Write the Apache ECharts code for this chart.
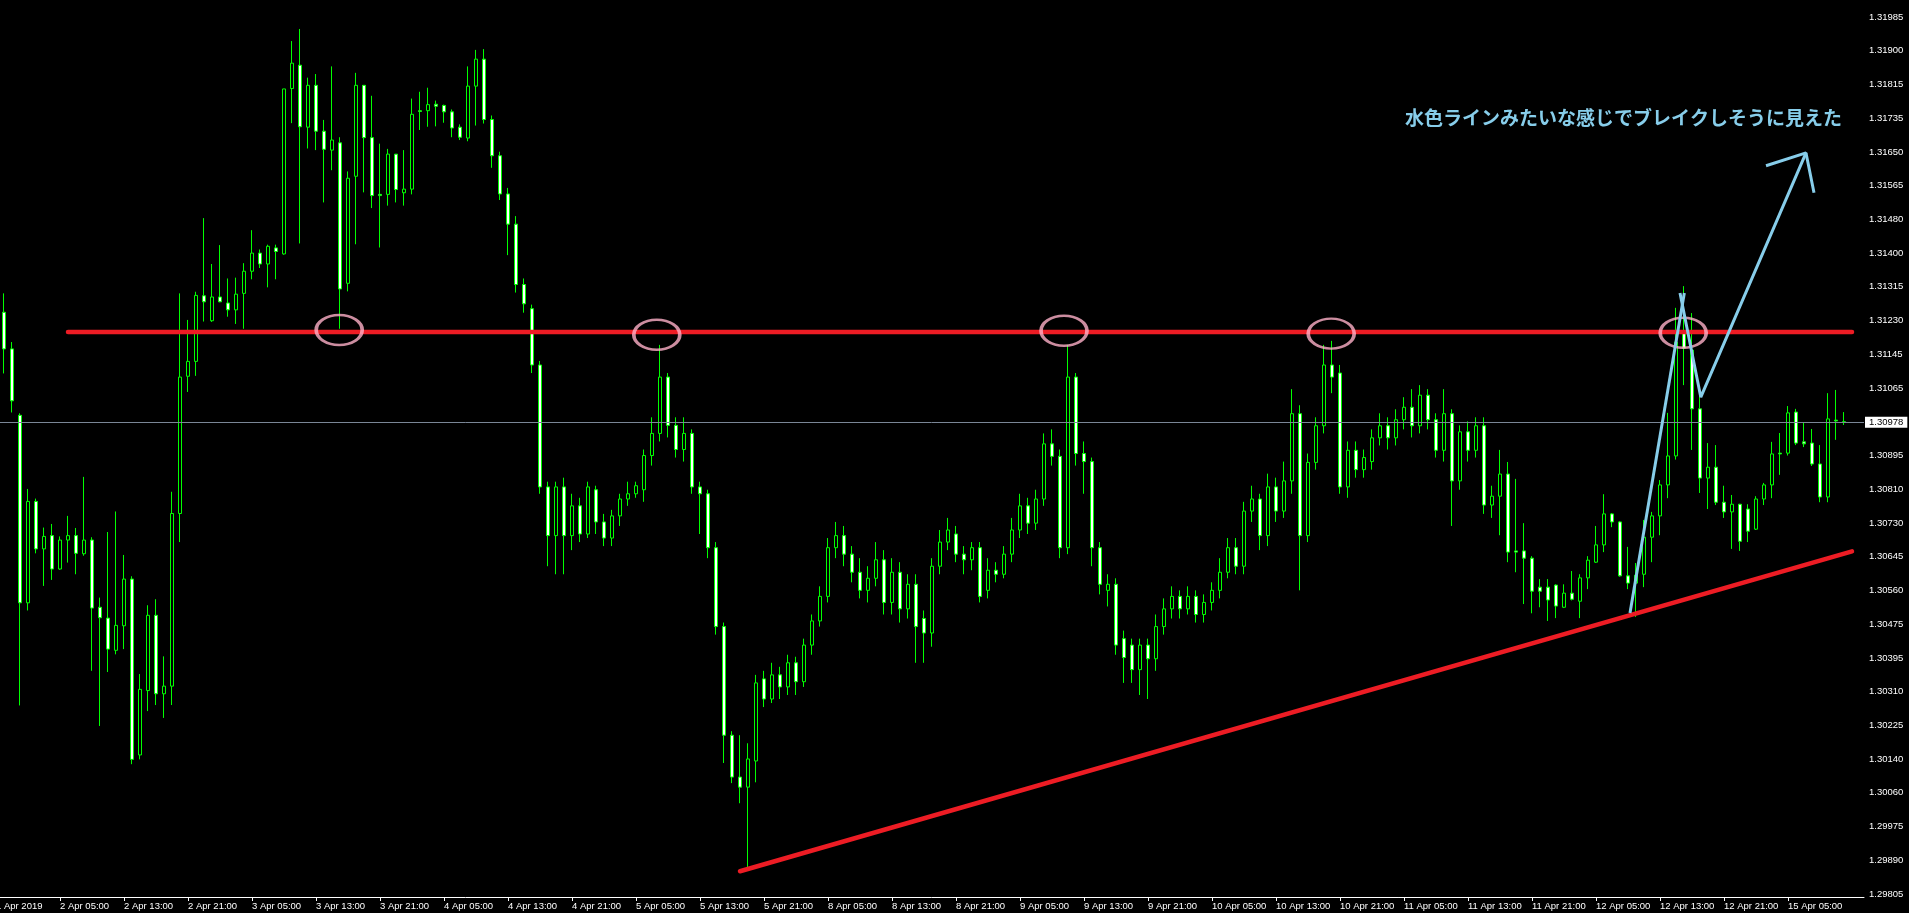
<!DOCTYPE html>
<html><head><meta charset="utf-8">
<script src="https://cdn.jsdelivr.net/npm/echarts@6/dist/echarts.min.js"></script>
<style>html,body{margin:0;padding:0;background:#000;overflow:hidden}#c{width:1909px;height:913px}</style>
</head><body><div id="c"></div>
<script>
// GBPUSD H1, 1 Apr 22:00 .. 15 Apr 12:00 (index 1..231 on the category axis)
const xTickLabels = ['1 Apr 2019','2 Apr 05:00','2 Apr 13:00','2 Apr 21:00','3 Apr 05:00','3 Apr 13:00','3 Apr 21:00','4 Apr 05:00','4 Apr 13:00','4 Apr 21:00','5 Apr 05:00','5 Apr 13:00','5 Apr 21:00','8 Apr 05:00','8 Apr 13:00','8 Apr 21:00','9 Apr 05:00','9 Apr 13:00','9 Apr 21:00','10 Apr 05:00','10 Apr 13:00','10 Apr 21:00','11 Apr 05:00','11 Apr 13:00','11 Apr 21:00','12 Apr 05:00','12 Apr 13:00','12 Apr 21:00','15 Apr 05:00'];
const yTickLabels = ['1.29805','1.29890','1.29975','1.30060','1.30140','1.30225','1.30310','1.30395','1.30475','1.30560','1.30645','1.30730','1.30810','1.30895','','1.31065','1.31145','1.31230','1.31315','1.31400','1.31480','1.31565','1.31650','1.31735','1.31815','1.31900','1.31985'];

const opens = [
1.31251,1.31160,1.30995,1.30529,1.30781,1.30663,1.30696,1.30613,1.30685,1.30696,
1.30651,1.30685,1.30518,1.30491,1.30411,1.30472,1.30588,1.30151,1.30311,1.30498,
1.30303,1.30322,1.30751,1.31092,1.31129,1.31292,1.31230,1.31289,1.31274,1.31257,
1.31298,1.31353,1.31398,1.31371,1.31411,1.31396,1.31807,1.31865,1.31711,1.31815,
1.31701,1.31654,1.31672,1.31323,1.31589,1.31815,1.31685,1.31544,1.31544,1.31644,
1.31548,1.31557,1.31752,1.31752,1.31768,1.31765,1.31749,1.31711,1.31684,1.31813,
1.31880,1.31730,1.31640,1.31545,1.31470,1.31320,1.31260,1.31120,1.30817,1.30696,
1.30817,1.30696,1.30770,1.30700,1.30810,1.30730,1.30690,1.30745,1.30787,1.30800,
1.30810,1.30895,1.30950,1.31090,1.30970,1.30910,1.30950,1.30817,1.30800,1.30666,
1.30470,1.30200,1.30096,1.30071,1.30136,1.30340,1.30290,1.30350,1.30320,1.30380,
1.30333,1.30424,1.30484,1.30545,1.30666,1.30696,1.30650,1.30605,1.30560,1.30590,
1.30636,1.30530,1.30605,1.30514,1.30575,1.30490,1.30454,1.30620,1.30680,1.30700,
1.30650,1.30636,1.30666,1.30560,1.30610,1.30600,1.30650,1.30710,1.30770,1.30727,
1.30787,1.30924,1.30893,1.30666,1.31090,1.30900,1.30880,1.30666,1.30560,1.30575,
1.30440,1.30424,1.30363,1.30424,1.30390,1.30470,1.30514,1.30545,1.30514,1.30545,
1.30500,1.30530,1.30560,1.30605,1.30666,1.30620,1.30757,1.30787,1.30696,1.30817,
1.30757,1.30832,1.30999,1.30696,1.30878,1.30969,1.31120,1.31100,1.30817,1.30908,
1.30860,1.30880,1.30939,1.30969,1.30939,1.30984,1.31015,1.30969,1.31045,1.30984,
1.30908,1.30999,1.30832,1.30954,1.30908,1.30969,1.30772,1.30794,1.30849,1.30658,
1.30658,1.30640,1.30568,1.30568,1.30573,1.30518,1.30553,1.30533,1.30591,1.30630,
1.30673,1.30750,1.30730,1.30596,1.30578,1.30600,1.30692,1.30745,1.30822,1.30894,
1.31200,1.31157,1.31011,1.30839,1.30866,1.30779,1.30755,1.30774,1.30762,1.30712,
1.30787,1.30822,1.30901,1.30901,1.31003,1.30929,1.30926,1.30874,1.30792,1.30983,1.30979];

const closes = [
1.31160,1.31031,1.30529,1.30781,1.30663,1.30694,1.30613,1.30685,1.30696,1.30652,
1.30685,1.30516,1.30492,1.30414,1.30473,1.30588,1.30140,1.30314,1.30498,1.30303,
1.30322,1.30751,1.31090,1.31129,1.31293,1.31277,1.31289,1.31277,1.31257,1.31296,
1.31353,1.31398,1.31371,1.31415,1.31402,1.31806,1.31870,1.31712,1.31815,1.31701,
1.31656,1.31679,1.31309,1.31584,1.31815,1.31685,1.31541,1.31541,1.31644,1.31556,
1.31557,1.31743,1.31750,1.31767,1.31763,1.31749,1.31709,1.31686,1.31813,1.31880,
1.31730,1.31640,1.31545,1.31470,1.31320,1.31272,1.31120,1.30817,1.30696,1.30817,
1.30696,1.30770,1.30700,1.30817,1.30730,1.30690,1.30745,1.30787,1.30800,1.30820,
1.30895,1.30950,1.31090,1.30970,1.30910,1.30950,1.30817,1.30800,1.30666,1.30470,
1.30200,1.30096,1.30071,1.30141,1.30330,1.30290,1.30350,1.30320,1.30380,1.30333,
1.30424,1.30484,1.30545,1.30666,1.30696,1.30650,1.30605,1.30560,1.30590,1.30636,
1.30530,1.30605,1.30514,1.30575,1.30470,1.30454,1.30620,1.30680,1.30710,1.30650,
1.30636,1.30666,1.30545,1.30610,1.30600,1.30650,1.30710,1.30770,1.30727,1.30787,
1.30924,1.30893,1.30666,1.31090,1.30900,1.30880,1.30666,1.30575,1.30575,1.30424,
1.30393,1.30363,1.30424,1.30390,1.30470,1.30514,1.30545,1.30514,1.30545,1.30500,
1.30530,1.30560,1.30605,1.30666,1.30620,1.30757,1.30787,1.30696,1.30817,1.30757,
1.30832,1.30999,1.30696,1.30878,1.30969,1.31120,1.31090,1.30817,1.30908,1.30860,
1.30890,1.30939,1.30969,1.30939,1.30984,1.31015,1.30969,1.31045,1.30984,1.30908,
1.30999,1.30832,1.30954,1.30908,1.30969,1.30772,1.30794,1.30849,1.30655,1.30655,
1.30640,1.30558,1.30558,1.30536,1.30521,1.30553,1.30538,1.30591,1.30635,1.30673,
1.30750,1.30730,1.30596,1.30578,1.30598,1.30692,1.30745,1.30822,1.30894,1.31177,
1.31162,1.31011,1.30839,1.30866,1.30779,1.30755,1.30774,1.30682,1.30707,1.30787,
1.30822,1.30899,1.30899,1.31001,1.30926,1.30924,1.30874,1.30792,1.30986,1.30981,1.30978];

const lows = [
1.31099,1.31002,1.30274,1.30510,1.30652,1.30571,1.30586,1.30611,1.30629,1.30600,
1.30646,1.30360,1.30223,1.30357,1.30401,1.30414,1.30128,1.30140,1.30260,1.30275,
1.30243,1.30275,1.30680,1.31053,1.31093,1.31228,1.31227,1.31276,1.31240,1.31222,
1.31210,1.31333,1.31361,1.31313,1.31333,1.31394,1.31721,1.31422,1.31658,1.31654,
1.31524,1.31604,1.31210,1.31303,1.31420,1.31549,1.31510,1.31412,1.31516,1.31524,
1.31516,1.31544,1.31704,1.31712,1.31713,1.31722,1.31686,1.31679,1.31676,1.31715,
1.31720,1.31610,1.31530,1.31393,1.31300,1.31250,1.31100,1.30800,1.30620,1.30600,
1.30600,1.30660,1.30680,1.30690,1.30700,1.30670,1.30670,1.30720,1.30770,1.30790,
1.30780,1.30870,1.30930,1.30940,1.30890,1.30880,1.30800,1.30700,1.30640,1.30450,
1.30131,1.30081,1.30031,1.29872,1.30083,1.30270,1.30280,1.30290,1.30300,1.30300,
1.30320,1.30400,1.30470,1.30530,1.30640,1.30620,1.30580,1.30540,1.30530,1.30570,
1.30500,1.30500,1.30480,1.30490,1.30380,1.30380,1.30420,1.30600,1.30660,1.30630,
1.30600,1.30610,1.30530,1.30540,1.30580,1.30590,1.30630,1.30690,1.30700,1.30710,
1.30770,1.30870,1.30640,1.30650,1.30870,1.30800,1.30620,1.30550,1.30520,1.30400,
1.30330,1.30330,1.30300,1.30290,1.30360,1.30450,1.30490,1.30490,1.30500,1.30480,
1.30480,1.30510,1.30540,1.30590,1.30600,1.30600,1.30730,1.30660,1.30670,1.30730,
1.30740,1.30800,1.30560,1.30680,1.30860,1.30950,1.31050,1.30800,1.30790,1.30840,
1.30840,1.30860,1.30920,1.30910,1.30920,1.30960,1.30940,1.30950,1.30960,1.30890,
1.30880,1.30720,1.30810,1.30880,1.30890,1.30750,1.30740,1.30697,1.30630,1.30605,
1.30526,1.30503,1.30518,1.30484,1.30491,1.30516,1.30535,1.30491,1.30563,1.30628,
1.30655,1.30717,1.30594,1.30563,1.30494,1.30568,1.30630,1.30697,1.30789,1.30885,
1.31070,1.30909,1.30802,1.30762,1.30772,1.30740,1.30663,1.30658,1.30680,1.30710,
1.30772,1.30789,1.30847,1.30895,1.30921,1.30916,1.30869,1.30779,1.30779,1.30934,1.30971];

const highs = [
1.31298,1.31177,1.31000,1.30812,1.30788,1.30716,1.30725,1.30694,1.30745,1.30715,
1.30842,1.30692,1.30542,1.30705,1.30756,1.30648,1.30595,1.30352,1.30523,1.30538,
1.30396,1.30805,1.31298,1.31232,1.31302,1.31485,1.31371,1.31418,1.31335,1.31337,
1.31373,1.31455,1.31407,1.31419,1.31419,1.31806,1.31925,1.31955,1.31834,1.31843,
1.31729,1.31862,1.31686,1.31601,1.31846,1.31815,1.31789,1.31670,1.31657,1.31644,
1.31654,1.31782,1.31799,1.31809,1.31777,1.31767,1.31755,1.31718,1.31862,1.31903,
1.31905,1.31740,1.31650,1.31560,1.31490,1.31335,1.31270,1.31130,1.30830,1.30830,
1.30840,1.30800,1.30790,1.30830,1.30820,1.30750,1.30760,1.30800,1.30830,1.30830,
1.30910,1.30990,1.31170,1.31100,1.30990,1.30990,1.30960,1.30830,1.30810,1.30680,
1.30480,1.30210,1.30200,1.30180,1.30350,1.30360,1.30380,1.30370,1.30400,1.30395,
1.30440,1.30500,1.30570,1.30690,1.30730,1.30720,1.30670,1.30640,1.30620,1.30680,
1.30660,1.30640,1.30630,1.30600,1.30600,1.30510,1.30640,1.30710,1.30740,1.30720,
1.30670,1.30680,1.30680,1.30640,1.30630,1.30670,1.30740,1.30800,1.30790,1.30810,
1.30950,1.30960,1.30910,1.31170,1.31100,1.30930,1.30890,1.30680,1.30600,1.30590,
1.30460,1.30440,1.30440,1.30440,1.30500,1.30540,1.30570,1.30560,1.30570,1.30560,
1.30550,1.30580,1.30640,1.30690,1.30690,1.30780,1.30820,1.30800,1.30850,1.30840,
1.30880,1.31060,1.31020,1.30900,1.30990,1.31170,1.31180,1.31120,1.30930,1.30930,
1.30910,1.30960,1.31000,1.30990,1.31010,1.31040,1.31060,1.31070,1.31060,1.31000,
1.31060,1.31010,1.30970,1.30980,1.30990,1.30990,1.30820,1.30909,1.30879,1.30837,
1.30727,1.30645,1.30588,1.30588,1.30575,1.30575,1.30608,1.30600,1.30645,1.30720,
1.30799,1.30752,1.30732,1.30668,1.30628,1.30735,1.30755,1.30834,1.31001,1.31262,
1.31316,1.31249,1.31053,1.30926,1.30921,1.30820,1.30797,1.30775,1.30774,1.30794,
1.30827,1.30929,1.30951,1.31018,1.31011,1.30976,1.30961,1.30921,1.31050,1.31058,1.31003];

const currentPrice = 1.30978;
const resistance = [[9, 1.31202], [232, 1.31202]];
const supportTrend = [[93, 1.29862], [232, 1.30657]];
const circles = [[42.9, 1.31207], [82.6, 1.31195], [133.5, 1.31205], [166.9, 1.31198], [210.9, 1.31200]];
const blueUp = [[204.25, 1.30504], [211.04, 1.31299]];
const blueDown = [[210.5, 1.31299], [213.1, 1.31040], [226.25, 1.31647]];
const blueHead = [[221.25, 1.31615], [226.25, 1.31647], [227.25, 1.31548]];
const noteText = '水色ラインみたいな感じでブレイクしそうに見えた';

const N = 234;
const categories = [];
const candles = [];
for (let i = 0; i < N; i++) {
  categories.push(String(i));
  if (i >= 1 && i <= opens.length) candles.push([opens[i-1], closes[i-1], lows[i-1], highs[i-1]]);
  else candles.push('-');
}
const axFont = "'Liberation Sans', Arial, sans-serif";
const axSize = 9.5;
const chart = echarts.init(document.getElementById('c'), null, {renderer: 'canvas'});
const sky = '#87cdea';
chart.setOption({
  backgroundColor: '#000',
  animation: false,
  grid: [
    {left: -8, top: 0, width: 1872, height: 897, outerBoundsMode: 'none', containLabel: false},
    {left: -8, top: 17, width: 1872, height: 877, outerBoundsMode: 'none', containLabel: false}
  ],
  xAxis: [
    {type: 'category', gridIndex: 0, data: categories, boundaryGap: true,
     axisLine: {lineStyle: {color: '#fff', width: 1}},
     axisTick: {show: true, alignWithLabel: true, length: 4, lineStyle: {color: '#fff'},
                interval: (i) => i % 8 === 0 && i <= 224},
     axisLabel: {show: true, color: '#fff', fontSize: axSize, fontFamily: axFont, align: 'left', margin: 4,
                 interval: (i) => i % 8 === 0 && i <= 224,
                 formatter: (v, i) => xTickLabels[Math.round(i / 8)] || ''},
     splitLine: {show: false}},
    {type: 'value', gridIndex: 0, min: -0.5, max: N - 0.5, show: false},
    {type: 'value', gridIndex: 1, min: 0, max: 1, show: false}
  ],
  yAxis: [
    {type: 'value', gridIndex: 0, position: 'right', min: 1.29798, max: 1.32027, scale: true,
     axisLine: {show: true, lineStyle: {color: '#fff', width: 1}},
     axisTick: {show: false}, axisLabel: {show: false}, splitLine: {show: false}},
    {type: 'category', gridIndex: 1, position: 'right', data: yTickLabels, boundaryGap: false,
     axisLine: {show: false},
     axisTick: {show: true, length: 3, lineStyle: {color: '#fff'}, interval: 0},
     axisLabel: {show: true, color: '#fff', fontSize: axSize, fontFamily: axFont, margin: 5, interval: 0},
     splitLine: {show: false}}
  ],
  series: [
    {type: 'candlestick', xAxisIndex: 0, yAxisIndex: 0, data: candles, barWidth: 4,
     silent: true,
     itemStyle: {color: '#000', color0: '#fff', borderColor: '#00ff00', borderColor0: '#00ff00',
                 borderColorDoji: '#00ff00', borderWidth: 1},
     emphasis: {disabled: true},
     markLine: {silent: true, symbol: ['none', 'none'], animation: false, precision: 5,
       lineStyle: {color: '#7a8696', width: 1, type: 'solid'},
       label: {show: true, position: 'end', distance: 1, formatter: currentPrice.toFixed(5),
               color: '#000', backgroundColor: '#fff', padding: [1, 4, 0, 4],
               fontSize: axSize, fontFamily: axFont},
       emphasis: {disabled: true},
       data: [{yAxis: currentPrice}]}},
    {type: 'line', xAxisIndex: 1, yAxisIndex: 0, data: resistance, symbol: 'none', silent: true,
     lineStyle: {color: '#ed1c24', width: 4.5, cap: 'round'}, z: 5},
    {type: 'line', xAxisIndex: 1, yAxisIndex: 0, data: supportTrend, symbol: 'none', silent: true,
     lineStyle: {color: '#ed1c24', width: 4.5, cap: 'round'}, z: 5},
    {type: 'scatter', xAxisIndex: 1, yAxisIndex: 0, data: circles, symbol: 'circle', symbolSize: [46, 30],
     silent: true, itemStyle: {color: 'rgba(0,0,0,0)', borderColor: '#ffb0c8', borderWidth: 3}, z: 6},
    {type: 'line', xAxisIndex: 1, yAxisIndex: 0, data: blueUp, symbol: 'none', silent: true,
     lineStyle: {color: sky, width: 3}, z: 7},
    {type: 'line', xAxisIndex: 1, yAxisIndex: 0, data: blueDown, symbol: 'none', silent: true,
     lineStyle: {color: sky, width: 3}, z: 7},
    {type: 'line', xAxisIndex: 1, yAxisIndex: 0, data: blueHead, symbol: 'none', silent: true,
     lineStyle: {color: sky, width: 3}, z: 7}
  ],
  graphic: [
    {type: 'text', left: 1405, top: 108, z: 10,
     style: {text: noteText, fill: sky, font: "bold 19px 'Noto Sans CJK JP', sans-serif"}}
  ]
});
</script>
</body></html>
